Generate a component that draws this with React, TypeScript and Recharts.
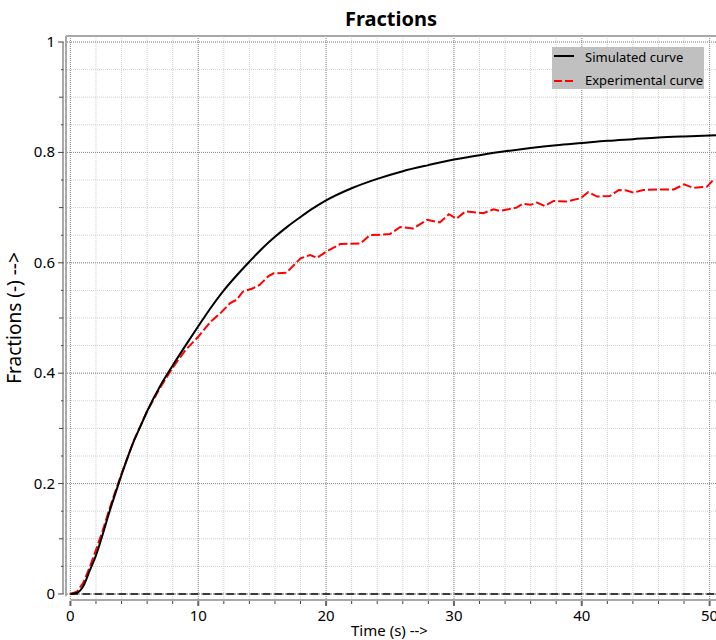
import React from 'react';
import { LineChart, Line, XAxis, YAxis, CartesianGrid, ReferenceLine } from 'recharts';

const chartTitle = 'Fractions';
const xAxisTitle = 'Time (s) -->';
const yAxisTitle = 'Fractions (-) -->';
const seriesNames = ['Simulated curve', 'Experimental curve'];

const simTime = [0, 0.5, 1, 1.5, 2, 2.5, 3, 3.5, 4, 4.5, 5, 5.5, 6, 7, 8, 9, 10, 11, 12, 13, 14, 15, 16, 17, 18, 19, 20, 22, 24, 26, 28, 30, 32, 34, 36, 38, 40, 42, 44, 46, 48, 50.5];
const simValues = [0, 0.002, 0.014, 0.042, 0.07, 0.106, 0.145, 0.181, 0.216, 0.249, 0.279, 0.305, 0.331, 0.376, 0.414, 0.45, 0.485, 0.519, 0.55, 0.577, 0.602, 0.626, 0.647, 0.666, 0.683, 0.699, 0.713, 0.735, 0.752, 0.766, 0.777, 0.787, 0.795, 0.802, 0.808, 0.813, 0.817, 0.821, 0.824, 0.827, 0.829, 0.831];

const expTime = [0, 0.5, 1, 1.5, 2, 2.5, 3, 3.5, 4, 5, 6, 7, 8, 9, 10, 11, 11.7, 12.5, 13, 13.5, 14.2, 14.8, 15.5, 15.9, 16.9, 18, 18.75, 19.3, 20, 21.1, 22.7, 23.4, 25, 25.8, 26.8, 27.9, 28.9, 29.6, 30.2, 30.9, 32.3, 33.1, 33.6, 34.9, 35.4, 36, 36.5, 37.1, 37.8, 38.8, 39.9, 40.5, 41.2, 42.2, 42.9, 43.5, 44.05, 44.8, 46.1, 47.2, 48, 48.7, 49.8, 50.4];
const expValues = [0, 0.004, 0.02, 0.048, 0.08, 0.113, 0.15, 0.185, 0.218, 0.28, 0.331, 0.373, 0.41, 0.442, 0.466, 0.494, 0.508, 0.527, 0.533, 0.548, 0.553, 0.56, 0.576, 0.581, 0.582, 0.608, 0.614, 0.609, 0.62, 0.634, 0.635, 0.65, 0.652, 0.665, 0.662, 0.678, 0.673, 0.688, 0.68, 0.693, 0.69, 0.697, 0.694, 0.7, 0.707, 0.705, 0.709, 0.703, 0.712, 0.711, 0.717, 0.728, 0.72, 0.721, 0.732, 0.731, 0.727, 0.732, 0.733, 0.733, 0.742, 0.736, 0.738, 0.753];

const xTicks = [0, 2, 4, 6, 8, 10, 12, 14, 16, 18, 20, 22, 24, 26, 28, 30, 32, 34, 36, 38, 40, 42, 44, 46, 48, 50];
const xMajorTicks = [0, 10, 20, 30, 40, 50];
const yTicks = [0, 0.05, 0.1, 0.15, 0.2, 0.25, 0.3, 0.35, 0.4, 0.45, 0.5, 0.55, 0.6, 0.65, 0.7, 0.75, 0.8, 0.85, 0.9, 0.95, 1];
const yMajorTicks = [0, 0.2, 0.4, 0.6, 0.8, 1];
const yMediumTicks = [0.1, 0.3, 0.5, 0.7, 0.9];

const xDomain = [-0.58, 50.5];
const yDomain = [-0.0109, 1.0109];
const frameX = -0.345;

const simData = simTime.map((t, i) => ({ t, v: simValues[i] }));
const expData = expTime.map((t, i) => ({ t, v: expValues[i] }));

const FONT = '"Noto Sans", sans-serif';

const XTick = (props: any) => {
  const { x, y, payload } = props;
  const v = payload.value;
  const major = xMajorTicks.includes(v);
  return (
    <g>
      <line x1={x} y1={y + 1} x2={x} y2={y + (major ? 6 : 4)} stroke={major ? '#666' : '#444'} strokeWidth={major ? 2 : 1} />
      {major && (
        <text x={x} y={y + 21} textAnchor="middle" fontSize={15} fontFamily={FONT} fill="#000">{v}</text>
      )}
    </g>
  );
};

const YTick = (props: any) => {
  const { x, y, payload } = props;
  const v = payload.value;
  const major = yMajorTicks.some((m) => Math.abs(m - v) < 1e-6);
  const medium = yMediumTicks.some((m) => Math.abs(m - v) < 1e-6);
  const len = major ? 5 : medium ? 4 : 2;
  return (
    <g>
      <line x1={x - len} y1={y} x2={x} y2={y} stroke="#444" strokeWidth={1} />
      {major && (
        <text x={x - 8} y={y + 5} textAnchor="end" fontSize={15} fontFamily={FONT} fill="#000">{String(v)}</text>
      )}
    </g>
  );
};

const YLabel = (props: any) => {
  const vb = props.viewBox || { x: 0, y: 36, width: 63, height: 564 };
  const cy = vb.y + vb.height / 2;
  const cx = 21;
  return (
    <text x={cx} y={cy} transform={`rotate(-90 ${cx} ${cy})`} textAnchor="middle" fontSize={19} fontFamily={FONT} fill="#000">{yAxisTitle}</text>
  );
};

const XLabel = (props: any) => {
  const vb = props.viewBox || { x: 63, y: 600, width: 653, height: 40 };
  const cx = vb.x + vb.width / 2;
  return (
    <text x={cx} y={636} textAnchor="middle" fontSize={15} fontFamily={FONT} fill="#000">{xAxisTitle}</text>
  );
};

export default function App() {
  return (
    <div style={{ position: 'absolute', left: 0, top: 0, width: 716, height: 640, background: '#fff' }}>
      <div style={{ position: 'absolute', left: 66, top: 9, width: 650, textAlign: 'center', fontFamily: FONT, fontWeight: 700, fontSize: 20, lineHeight: '20px', color: '#000' }}>
        {chartTitle}
      </div>
      <LineChart width={716} height={640} data={simData} margin={{ top: 36, right: 0, bottom: 0, left: 0 }}>
        <CartesianGrid
          horizontalValues={yTicks}
          verticalValues={xTicks}
          stroke="#cfcfcf"
          strokeDasharray="1 1"
        />
        <CartesianGrid
          horizontalValues={yMajorTicks}
          verticalValues={xMajorTicks}
          stroke="#8a8a8a"
          strokeDasharray="1 1"
        />
        <XAxis
          type="number"
          dataKey="t"
          domain={xDomain}
          allowDataOverflow
          ticks={xTicks}
          interval={0}
          height={40}
          tickSize={0}
          tickMargin={0}
          axisLine={false}
          tickLine={false}
          tick={<XTick />}
          label={<XLabel />}
        />
        <YAxis
          type="number"
          dataKey="v"
          domain={yDomain}
          allowDataOverflow
          ticks={yTicks}
          interval={0}
          width={63}
          tickSize={0}
          tickMargin={0}
          axisLine={false}
          tickLine={false}
          tick={<YTick />}
          label={<YLabel />}
        />
        <ReferenceLine segment={[{ x: frameX, y: yDomain[1] }, { x: xDomain[1], y: yDomain[1] }]} stroke="#a8a8a8" strokeWidth={2} ifOverflow="visible" />
        <ReferenceLine segment={[{ x: frameX, y: -0.004 }, { x: frameX, y: yDomain[1] }]} stroke="#a8a8a8" strokeWidth={2} ifOverflow="visible" />
        <ReferenceLine segment={[{ x: xDomain[0], y: 0 }, { x: xDomain[0], y: 1 }]} stroke="#555" strokeWidth={1} ifOverflow="visible" />
        <ReferenceLine segment={[{ x: 0, y: yDomain[0] }, { x: xDomain[1], y: yDomain[0] }]} stroke="#a8a8a8" strokeWidth={2} ifOverflow="visible" />
        <ReferenceLine segment={[{ x: 0, y: 0 }, { x: xDomain[1], y: 0 }]} stroke="#3a3a3a" strokeWidth={2} strokeDasharray="8 4" ifOverflow="visible" />
        <Line data={expData} dataKey="v" name={seriesNames[1]} type="linear" stroke="#ff0000" strokeWidth={2} strokeDasharray="9 3" dot={false} isAnimationActive={false} />
        <Line data={simData} dataKey="v" name={seriesNames[0]} type="monotone" stroke="#000" strokeWidth={2} dot={false} isAnimationActive={false} />
      </LineChart>
      <div style={{ position: 'absolute', left: 552, top: 47, width: 152, height: 42, background: '#c0c0c0', fontFamily: FONT, fontSize: 13, color: '#000' }}>
        <div style={{ position: 'absolute', left: 1, top: 0, height: 20, display: 'flex', alignItems: 'center' }}>
          <svg width={22} height={20}><line x1={1} y1={9} x2={21} y2={9} stroke="#000" strokeWidth={2} /></svg>
          <span style={{ marginLeft: 10, lineHeight: '20px' }}>{seriesNames[0]}</span>
        </div>
        <div style={{ position: 'absolute', left: 1, top: 23, height: 20, display: 'flex', alignItems: 'center' }}>
          <svg width={22} height={20}><line x1={1} y1={11} x2={21} y2={11} stroke="#ff0000" strokeWidth={2} strokeDasharray="8 3" /></svg>
          <span style={{ marginLeft: 10, lineHeight: '20px' }}>{seriesNames[1]}</span>
        </div>
      </div>
    </div>
  );
}
